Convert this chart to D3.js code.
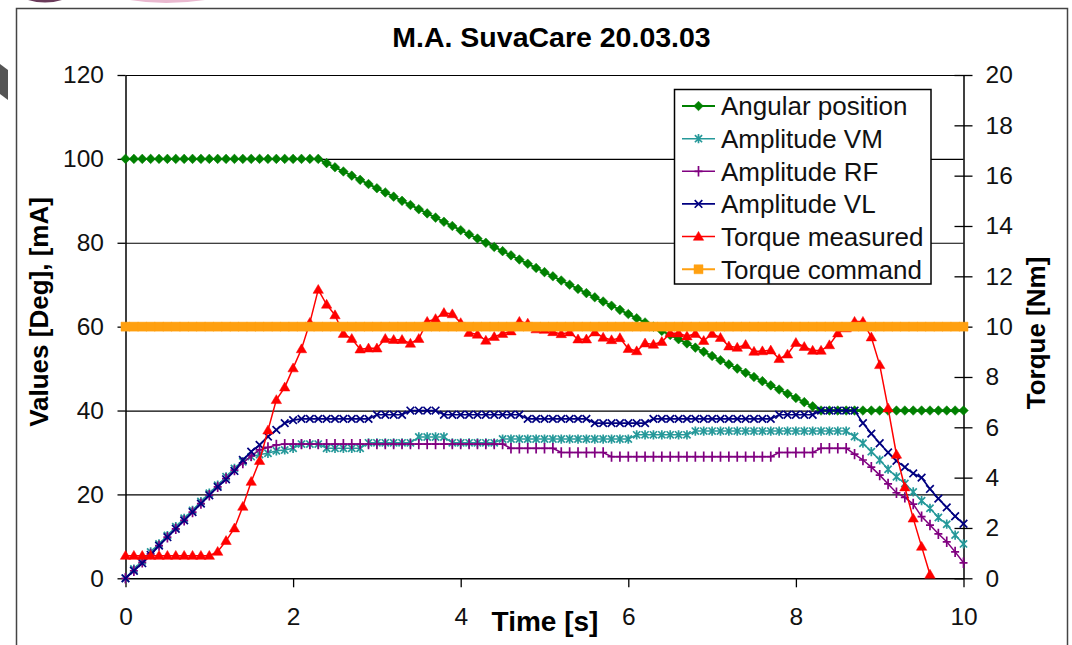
<!DOCTYPE html>
<html>
<head>
<meta charset="utf-8">
<script src="https://cdn.jsdelivr.net/npm/d3@7"></script>
<style>
  body { margin: 0; background: #fff; }
  svg text { font-family: "Liberation Sans", Arial, sans-serif; }
</style>
</head>
<body>
<div id="chart"></div>
<script>
// time base, 0.1 s steps
const times = [0,0.1,0.2,0.3,0.4,0.5,0.6,0.7,0.8,0.9,1,1.1,1.2,1.3,1.4,1.5,1.6,1.7,1.8,1.9,2,2.1,2.2,2.3,2.4,2.5,2.6,2.7,2.8,2.9,
  3,3.1,3.2,3.3,3.4,3.5,3.6,3.7,3.8,3.9,4,4.1,4.2,4.3,4.4,4.5,4.6,4.7,4.8,4.9,5,5.1,5.2,5.3,5.4,5.5,5.6,5.7,5.8,5.9,
  6,6.1,6.2,6.3,6.4,6.5,6.6,6.7,6.8,6.9,7,7.1,7.2,7.3,7.4,7.5,7.6,7.7,7.8,7.9,8,8.1,8.2,8.3,8.4,8.5,8.6,8.7,8.8,8.9,
  9,9.1,9.2,9.3,9.4,9.5,9.6,9.7,9.8,9.9,10];

// left axis series [Deg] / [mA]
const angularPosition = [100,100,100,100,100,100,100,100,100,100,100,100,100,100,100,100,100,100,100,100,100,100,100,100,
  99,98,97,96,95,94,93,92,91,90,89,88,87,86,85,84,83,82,81,80,79,78,77,76,75,74,73,72,71,70,69,68,67,66,65,64,
  63,62,61,60,59,58,57,56,55,54,53,52,51,50,49,48,47,46,45,44,43,42,41,
  40,40,40,40,40,40,40,40,40,40,40,40,40,40,40,40,40,40];
const amplitudeVM = [0,2.2,4.2,6.3,8.2,10.2,12.3,14.3,16.2,18.3,20.3,22.2,24.2,26.2,
  27.8,29,29.5,29.8,30.4,30.6,31,
  32,32,32,
  31,31,31,31,31,
  32.3,32.3,32.3,32.3,32.3,32.3,
  33.7,33.7,33.7,33.7,
  32.3,32.3,32.3,32.3,32.3,32.3,
  33.2,33.2,33.2,33.2,33.2,33.2,33.2,33.2,33.2,33.2,33.2,33.2,33.2,33.2,33.2,33.2,
  34.2,34.2,34.2,34.2,34.2,34.2,34.2,
  35.1,35.1,35.1,35.1,35.1,35.1,35.1,35.1,35.1,35.1,35.1,35.1,35.1,35.1,35.1,35.1,35.1,35.1,35.1,
  33.8,32.2,30.2,28.2,26,24.2,22.6,20.6,18.5,16.7,14.5,12.9,10.3,8.2];
const amplitudeRF = [0,1.8,3.8,5.8,7.8,9.8,11.8,13.8,15.8,17.8,19.8,21.8,23.8,25.8,
  27.5,29.2,30.6,31.2,31.8,
  32,32,32,32,32,32,32,32,32,32,32,32,32,32,32,32,32,32,32,32,32,32,32,32,32,32,32,
  31,31,31,31,31,31,
  30,30,30,30,30,30,
  29,29,29,29,29,29,29,29,29,29,29,29,29,29,29,29,29,29,29,29,
  30,30,30,30,30,
  31,31,31,31,
  29.6,28.2,26.5,24.6,22.5,20.4,19.3,17.7,14.7,12.7,10.6,8.7,6.3,3.7];
const amplitudeVL = [0,1.8,3.6,5.6,7.8,9.8,11.8,13.8,15.8,17.8,19.8,21.8,23.6,25.6,
  28.2,30.2,31.8,33.8,35.4,37,37.7,
  38,38,38,38,38,38,38,38,38,
  39,39,39,39,
  40,40,40,40,
  39,39,39,39,39,39,39,39,39,39,
  38,38,38,38,38,38,38,38,
  37,37,37,37,37,37,37,
  38,38,38,38,38,38,38,38,38,38,38,38,38,38,38,
  39,39,39,39,39,
  40,40,40,40,40,
  37,34.5,32.2,30,28,26.5,25,24,21.3,19,16.9,14.8,13];

// right axis series [Nm]
const torqueMeasured = [0.9,0.9,0.9,0.9,0.9,0.9,0.9,0.9,0.9,0.9,0.9,1.06,1.49,1.99,2.85,3.84,4.67,5.88,7.09,7.59,
  8.35,9.11,10.16,11.47,10.88,10.46,9.72,9.52,9.1,9.14,9.14,9.52,9.48,9.48,9.33,9.52,10.2,10.31,10.55,10.5,
  10.15,9.76,9.69,9.45,9.6,9.72,9.82,10.2,10.13,9.9,9.88,9.79,9.71,9.78,9.5,9.5,9.78,9.57,9.47,9.55,
  9.12,9.03,9.34,9.29,9.4,9.74,9.74,9.62,9.72,9.44,9.72,9.56,9.22,9.17,9.28,9.01,9.03,9.06,8.72,8.9,
  9.36,9.2,9.05,9.05,9.27,9.74,9.94,10.2,10.2,9.58,8.48,6.76,4.92,3.62,2.38,1.26,0.15];
const torqueCommand = [10,10,10,10,10,10,10,10,10,10,10,10,10,10,10,10,10,10,10,10,10,10,10,10,10,10,10,10,10,10,
  10,10,10,10,10,10,10,10,10,10,10,10,10,10,10,10,10,10,10,10,10,10,10,10,10,10,10,10,10,10,
  10,10,10,10,10,10,10,10,10,10,10,10,10,10,10,10,10,10,10,10,10,10,10,10,10,10,10,10,10,10,
  10,10,10,10,10,10,10,10,10,10,10];

const xTicks = [0, 2, 4, 6, 8, 10];
const yLeftTicks = [0, 20, 40, 60, 80, 100, 120];
const yRightTicks = [0, 2, 4, 6, 8, 10, 12, 14, 16, 18, 20];

const markers = {
    diamond: "M0,-4.8L4.8,0L0,4.8L-4.8,0Z",
    star: "M-3.6,-3.6L3.6,3.6M-3.6,3.6L3.6,-3.6M0,-4.6L0,4.6",
    plus: "M-4,0L4,0M0,-5.2L0,5.2",
    cross: "M-3.8,-3.8L3.8,3.8M-3.8,3.8L3.8,-3.8",
    triangle: "M0,-5.2L5.2,3.7L-5.2,3.7Z",
    square: "M-4.5,-4.5h9v9h-9Z"
};

const series = [
    { name: "Angular position", values: angularPosition, axis: "left", color: "#008000", width: 2, marker: "diamond", filled: true },
    { name: "Amplitude VM", values: amplitudeVM, axis: "left", color: "#26999a", width: 1.5, marker: "star", filled: false },
    { name: "Amplitude RF", values: amplitudeRF, axis: "left", color: "#800080", width: 1.5, marker: "plus", filled: false },
    { name: "Amplitude VL", values: amplitudeVL, axis: "left", color: "#000080", width: 1.7, marker: "cross", filled: false },
    { name: "Torque measured", values: torqueMeasured, axis: "right", color: "#ff0000", width: 1.5, marker: "triangle", filled: true },
    { name: "Torque command", values: torqueCommand, axis: "right", color: "#ffa010", width: 8, marker: "square", filled: true }
];

const margin = { top: 75, right: 108.5, bottom: 66.7, left: 125.5 },
    totalW = 1072, totalH = 645,
    width = totalW - margin.left - margin.right,
    height = totalH - margin.top - margin.bottom;

const root = d3.select("#chart")
    .append("svg")
    .attr("width", totalW)
    .attr("height", totalH);

// bits of the surrounding page peeking in at the edges
root.append("path")
    .attr("d", "M28,0 Q45,5 62,0 Z")
    .attr("fill", "#6a3a5a");
root.append("path")
    .attr("d", "M130,0 Q165,6 205,0 Z")
    .attr("fill", "#e9b8cf");
root.append("path")
    .attr("d", "M0,64 L8,70 L8,100 L0,94 Z")
    .attr("fill", "#555");

// outer chart frame
root.append("rect")
    .attr("x", 16.5).attr("y", 8.5)
    .attr("width", 1051).attr("height", 700)
    .attr("fill", "none")
    .attr("stroke", "#444")
    .attr("stroke-width", 1.5);

const svg = root.append("g")
    .attr("transform", `translate(${margin.left},${margin.top})`);

const x = d3.scaleLinear().domain([0, 10]).range([0, width]);
const yL = d3.scaleLinear().domain([0, 120]).range([height, 0]);
const yR = d3.scaleLinear().domain([0, 20]).range([height, 0]);

// gridlines
svg.append("g")
    .call(d3.axisLeft(yL).tickValues(yLeftTicks.slice(1)).tickSize(-width).tickFormat(""))
    .call(g => g.select(".domain").remove())
    .call(g => g.selectAll("line").attr("stroke", "#000").attr("stroke-width", 1.2));

// title
root.append("text")
    .attr("x", 551.5)
    .attr("y", 46.5)
    .attr("text-anchor", "middle")
    .style("font-size", "28.5px")
    .style("font-weight", "bold")
    .text("M.A. SuvaCare 20.03.03");

// left axis
svg.append("g")
    .call(d3.axisLeft(yL).tickValues(yLeftTicks).tickSize(8).tickSizeOuter(0).tickPadding(13.5))
    .call(g => g.select(".domain").attr("stroke", "#000").attr("stroke-width", 1.5))
    .call(g => g.selectAll("line").attr("stroke", "#000").attr("stroke-width", 1.3))
    .call(g => g.selectAll("text").attr("fill", "#111").style("font-size", "24.5px"));

// right axis, ticks cross the line
svg.append("g")
    .attr("transform", `translate(${width},0)`)
    .call(d3.axisRight(yR).tickValues(yRightTicks).tickSize(9).tickSizeOuter(0).tickPadding(13))
    .call(g => g.select(".domain").attr("stroke", "#000").attr("stroke-width", 1.5))
    .call(g => g.selectAll(".tick line").attr("x1", -9).attr("stroke", "#000").attr("stroke-width", 1.3))
    .call(g => g.selectAll("text").attr("fill", "#111").style("font-size", "24.5px"));

// bottom axis
svg.append("g")
    .attr("transform", `translate(0,${height})`)
    .call(d3.axisBottom(x).tickValues(xTicks).tickSize(9).tickSizeOuter(0).tickPadding(20).tickFormat(d3.format("d")))
    .call(g => g.select(".domain").attr("stroke", "#000").attr("stroke-width", 1.5))
    .call(g => g.selectAll("line").attr("stroke", "#000").attr("stroke-width", 1.3))
    .call(g => g.selectAll("text").attr("fill", "#111").style("font-size", "24.5px"));

// axis titles
root.append("text")
    .attr("x", 545)
    .attr("y", 631)
    .attr("text-anchor", "middle")
    .style("font-size", "28px")
    .style("font-weight", "bold")
    .text("Time [s]");

root.append("text")
    .attr("transform", "translate(48,312) rotate(-90)")
    .attr("text-anchor", "middle")
    .style("font-size", "26px")
    .style("font-weight", "bold")
    .text("Values [Deg], [mA]");

root.append("text")
    .attr("transform", "translate(1045,333) rotate(-90)")
    .attr("text-anchor", "middle")
    .style("font-size", "26px")
    .style("font-weight", "bold")
    .text("Torque [Nm]");

// series
series.forEach(s => {
    const yScale = s.axis === "left" ? yL : yR;
    const pts = s.values.map((v, i) => ({ t: times[i], v: v }));
    const g = svg.append("g");

    g.append("path")
        .datum(pts)
        .attr("fill", "none")
        .attr("stroke", s.color)
        .attr("stroke-width", s.width)
        .attr("d", d3.line().x(d => x(d.t)).y(d => yScale(d.v)));

    g.selectAll(".m")
        .data(pts)
        .enter().append("path")
        .attr("class", "m")
        .attr("transform", d => `translate(${x(d.t)},${yScale(d.v)})`)
        .attr("d", markers[s.marker])
        .attr("fill", s.filled ? s.color : "none")
        .attr("stroke", s.color)
        .attr("stroke-width", s.filled ? 0.5 : 1.7);
});

// legend
const legend = root.append("g");
legend.append("rect")
    .attr("x", 674.5).attr("y", 89.5)
    .attr("width", 256.5).attr("height", 194.5)
    .attr("fill", "#fff")
    .attr("stroke", "#000")
    .attr("stroke-width", 1.5);

series.forEach((s, i) => {
    const ly = 106 + i * 32.65;
    legend.append("line")
        .attr("x1", 682).attr("x2", 715)
        .attr("y1", ly).attr("y2", ly)
        .attr("stroke", s.color)
        .attr("stroke-width", Math.min(s.width, 2));
    legend.append("path")
        .attr("transform", `translate(698.5,${ly})`)
        .attr("d", markers[s.marker])
        .attr("fill", s.filled ? s.color : "none")
        .attr("stroke", s.color)
        .attr("stroke-width", s.filled ? 0.5 : 1.7);
    legend.append("text")
        .attr("x", 721)
        .attr("y", ly)
        .attr("dy", "0.36em")
        .style("font-size", "26px")
        .attr("fill", "#111")
        .text(s.name);
});
</script>
</body>
</html>
